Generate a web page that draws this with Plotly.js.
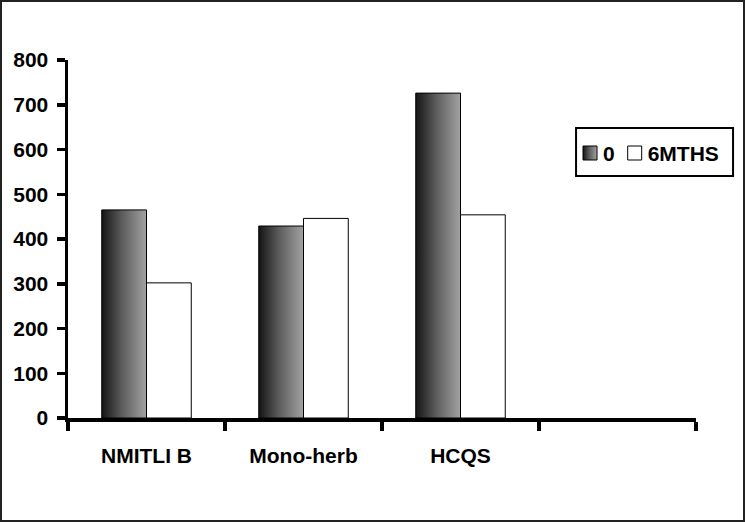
<!DOCTYPE html>
<html lang="en">
<head>
	<meta charset="utf-8">
	<title>NMITLI chart</title>
	<script src="https://cdn.plot.ly/plotly-3.0.1.min.js"></script>
<style>
body { margin:0; padding:0; background:#fff; }
#graph { width:745px; height:522px; }
#frame { position:fixed; left:0; top:0; width:745px; height:522px; box-sizing:border-box; border:2px solid #222; pointer-events:none; }
</style>
</head>
<body>
<div id="graph"></div>
<div id="frame"></div>
<script>
// values
var groups = ['NMITLI B', 'Mono-herb', 'HCQS', ' '];
var month0 = [465, 429, 726, null];
var month6 = [302, 446, 454, null];
var seriesNames = ['0', '6MTHS'];
var yTicks = [0, 100, 200, 300, 400, 500, 600, 700, 800];

var fam = 'Liberation Sans, Arial, sans-serif';

var t0 = {
  type: 'bar', name: seriesNames[0], x: groups, y: month0,
  marker: {color: '#555', line: {color: '#000', width: 1}}
};
var t1 = {
  type: 'bar', name: seriesNames[1], x: groups, y: month6,
  marker: {color: '#fff', line: {color: '#000', width: 1}}
};

var layout = {
  width: 745, height: 522,
  margin: {l: 68, r: 49, t: 60, b: 104, autoexpand: false},
  paper_bgcolor: '#fff', plot_bgcolor: '#fff',
  barmode: 'group', bargap: 0.43, bargroupgap: 0,
  font: {family: fam, size: 20, color: '#000'},
  showlegend: true,
  legend: {
    orientation: 'h', xref: 'container', yref: 'container',
    x: 0.77, y: 0.75, xanchor: 'left', yanchor: 'top',
    borderwidth: 0, bgcolor: 'rgba(0,0,0,0)',
    font: {family: fam, size: 21, color: '#000', weight: 'bold'}
  },
  // legend frame
  shapes: [{
    type: 'rect', xref: 'paper', yref: 'paper',
    x0: 0.809, x1: 1.059, y0: 0.676, y1: 0.81,
    line: {color: '#000', width: 2}, fillcolor: 'rgba(0,0,0,0)', layer: 'above'
  }],
  xaxis: {
    type: 'category', categoryorder: 'array', categoryarray: groups,
    range: [-0.5, 3.5], tickson: 'boundaries',
    showline: true, linecolor: '#000', linewidth: 3.5,
    ticks: 'outside', ticklen: 9, tickwidth: 3.5, tickcolor: '#000',
    ticklabelstandoff: 16,
    tickfont: {family: fam, size: 21, color: '#000', weight: 'bold'},
    showgrid: false, zeroline: false, fixedrange: true
  },
  yaxis: {
    range: [0, 800], tickvals: yTicks,
    showline: true, linecolor: '#000', linewidth: 3.5,
    ticks: 'outside', ticklen: 8, tickwidth: 3.5, tickcolor: '#000',
    ticklabelstandoff: 4,
    tickfont: {family: fam, size: 21, color: '#000', weight: 'bold'},
    showgrid: false, zeroline: false, fixedrange: true
  }
};

function getXY(el){
  var m = /translate\(\s*([-\d.]+)[ ,]+([-\d.]+)/.exec(el.getAttribute('transform') || '');
  return m ? [parseFloat(m[1]), parseFloat(m[2])] : [0, 0];
}

Plotly.newPlot('graph', [t0, t1], layout, {staticPlot: true}).then(function(gd){
  // dark-to-light gradient on the first series
  var ns = 'http://www.w3.org/2000/svg';
  var defs = gd.querySelector('.main-svg defs');
  var g = document.createElementNS(ns, 'linearGradient');
  g.setAttribute('id', 'barGrad');
  g.setAttribute('x1', '0'); g.setAttribute('y1', '0');
  g.setAttribute('x2', '1'); g.setAttribute('y2', '0');
  var stops = [['0', '#141414'], ['0.45', '#5c5c5c'], ['1', '#a2a2a2']];
  stops.forEach(function(s){
    var st = document.createElementNS(ns, 'stop');
    st.setAttribute('offset', s[0]);
    st.setAttribute('stop-color', s[1]);
    g.appendChild(st);
  });
  defs.appendChild(g);
  var tr = gd.querySelectorAll('.barlayer .trace')[0];
  tr.querySelectorAll('path').forEach(function(p){ p.style.fill = 'url(#barGrad)'; });

  // tighten the legend like the original
  var leg = gd.querySelector('.legend');
  var items = leg.querySelectorAll('.traces');
  items.forEach(function(it){
    it.querySelector('.legendtext').setAttribute('x', 33);
    it.querySelectorAll('.legendpoints path').forEach(function(p){ p.setAttribute('d', 'M7,7H-7V-7H7Z'); });
  });
  items[0].querySelectorAll('.legendpoints path').forEach(function(p){ p.style.fill = 'url(#barGrad)'; });
  var p0 = getXY(items[0]);
  var w0 = items[0].querySelector('.legendtext').getComputedTextLength();
  var p1 = getXY(items[1]);
  items[1].setAttribute('transform', 'translate(' + (p0[0] + 33 + w0) + ',' + p1[1] + ')');
  var sq = items[0].querySelector('.legendpoints path').getBoundingClientRect();
  var lp = getXY(leg);
  var dx = 583 - sq.left, dy = 146 - sq.top;
  leg.setAttribute('transform', 'translate(' + (lp[0] + dx) + ',' + (lp[1] + dy) + ')');
});
</script>
</body>
</html>
